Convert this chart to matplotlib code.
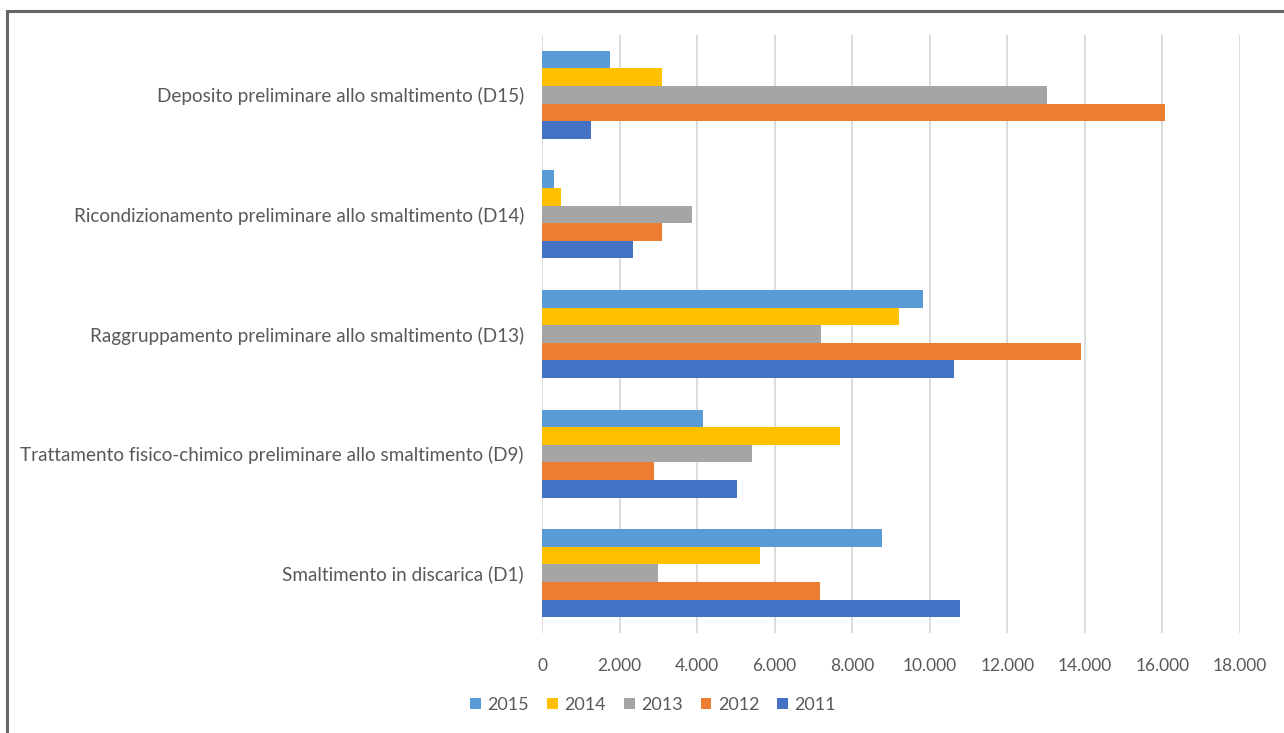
import numpy as np
import matplotlib.pyplot as plt
from matplotlib.ticker import FuncFormatter, MultipleLocator
from matplotlib.patches import Rectangle

categories = [
    "Deposito preliminare allo smaltimento (D15)",
    "Ricondizionamento preliminare allo smaltimento (D14)",
    "Raggruppamento preliminare allo smaltimento (D13)",
    "Trattamento fisico-chimico preliminare allo smaltimento (D9)",
    "Smaltimento in discarica (D1)",
]
years = ["2015", "2014", "2013", "2012", "2011"]
colors = ["#5B9BD5", "#FFC000", "#A5A5A5", "#ED7D31", "#4472C4"]

# values per year, same order as categories
v2015 = [1750, 320, 9820, 4160, 8760]
v2014 = [3100, 500, 9200, 7690, 5620]
v2013 = [13030, 3870, 7200, 5420, 3000]
v2012 = [16070, 3100, 13900, 2890, 7160]
v2011 = [1270, 2350, 10620, 5030, 10780]
series = [v2015, v2014, v2013, v2012, v2011]

plt.rcParams['font.family'] = ['Lato', 'DejaVu Sans']

fig = plt.figure(figsize=(12.84, 7.33), dpi=100)
W, H = 1284, 733
ax = fig.add_axes([542 / W, 1 - 633 / H, (1240 - 542) / W, (633 - 35) / H])

bar_h = 0.147
y = np.arange(len(categories))
for i, (yr, vals, c) in enumerate(zip(years, series, colors)):
    offs = (i - 2) * bar_h
    ax.barh(y + offs, vals, height=bar_h, color=c, label=yr, zorder=3)

ax.set_ylim(len(categories) - 0.5, -0.5)
ax.set_xlim(0, 18000)
ax.xaxis.set_major_locator(MultipleLocator(2000))
ax.xaxis.set_major_formatter(FuncFormatter(lambda v, p: f"{int(v):,}".replace(",", ".")))
ax.set_yticks(y)
ax.set_yticklabels(categories, fontsize=13.6)
ax.grid(axis='x', color='#D9D9D9', linewidth=1.3, zorder=0)
for s in ax.spines.values():
    s.set_visible(False)
ax.tick_params(axis='both', length=0, colors='#595959')
ax.tick_params(axis='x', pad=18, labelsize=12.5)
ax.tick_params(axis='y', pad=13)

leg = fig.legend(loc='center', bbox_to_anchor=(653 / W, 1 - 705 / H), ncol=5,
                 frameon=False, fontsize=13, handlelength=0.6, handleheight=0.6,
                 columnspacing=1.0, handletextpad=0.35)
for t in leg.get_texts():
    t.set_color('#595959')

# outer frame of the screenshot
fig.patches.append(Rectangle((7 / W, -0.1), 1.2, 1 - 11 / H + 0.1, transform=fig.transFigure,
                             fill=False, edgecolor='#666666', linewidth=2.2))

plt.savefig('out.png', dpi=100)
